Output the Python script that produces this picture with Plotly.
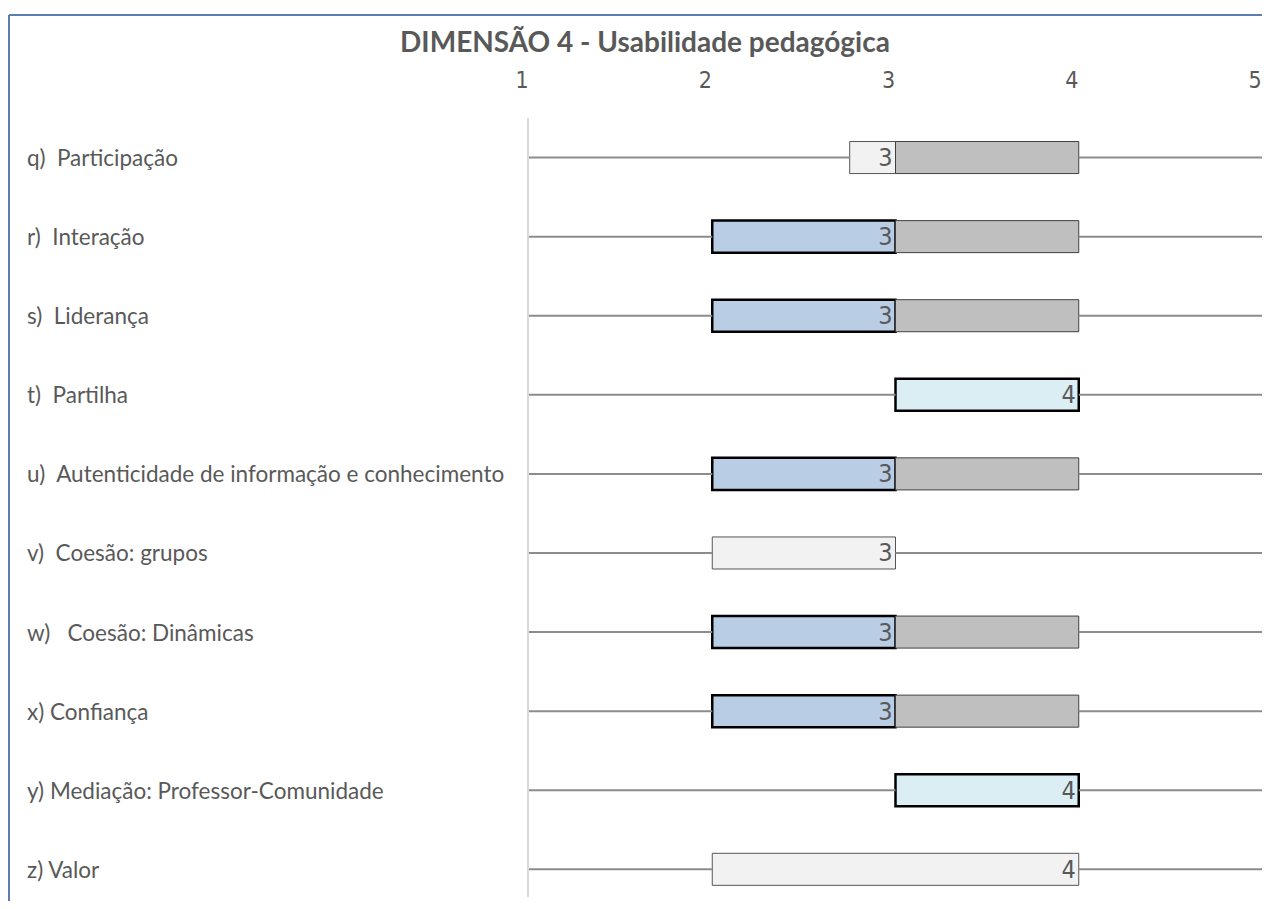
import plotly.graph_objects as go

# dados
categorias = ["q)\u00a0\u00a0Participação",
              "r)\u00a0\u00a0Interação",
              "s)\u00a0\u00a0Liderança",
              "t)\u00a0\u00a0Partilha",
              "u)\u00a0\u00a0Autenticidade de informação e conhecimento",
              "v)\u00a0\u00a0Coesão: grupos",
              "w)\u00a0\u00a0 Coesão: Dinâmicas",
              "x) Confiança",
              "y) Mediação: Professor-Comunidade",
              "z) Valor"]
minimo = [1, 1, 1, 1, 1, 1, 1, 1, 1, 1]
q1 = [2.75, 2, 2, 3, 2, 2, 2, 2, 3, 2]
mediana = [3, 3, 3, 4, 3, 3, 3, 3, 4, 4]
q3 = [4, 4, 4, 4, 4, 3, 4, 4, 4, 4]
maximo = [5, 5, 5, 5, 5, 5, 5, 5, 5, 5]
escala = [1, 2, 3, 4, 5]

# estilos da caixa inferior
cor_inf = ["#F2F2F2", "#B9CDE5", "#B9CDE5", "#DBEEF4", "#B9CDE5",
           "#F2F2F2", "#B9CDE5", "#B9CDE5", "#DBEEF4", "#F2F2F2"]
borda_larg = [1, 2.5, 2.5, 2.5, 2.5, 1, 2.5, 2.5, 2.5, 1]
borda_cor = ["#555555" if w < 2 else "#000000" for w in borda_larg]

CINZA = "#595959"
FONTE = "Lato, 'Open Sans', sans-serif"
NARROW = "'Liberation Sans Narrow', 'Arial Narrow', 'DejaVu Sans Condensed', sans-serif"

# área do gráfico (px dentro da figura)
W, H = 1254, 893
L, T, B = 521, 110, 4
PW = W - L
PH = H - T - B

fig = go.Figure()

# bigodes (linhas)
wx, wy = [], []
for c, mn, a, b, mx in zip(categorias, minimo, q1, q3, maximo):
    wx += [mn, a, None, b, mx, None]
    wy += [c, c, None, c, c, None]
fig.add_trace(go.Scatter(x=wx, y=wy, mode="lines",
                         line=dict(color="#8C8C8C", width=2),
                         hoverinfo="skip", showlegend=False))

# caixa inferior (q1 -> mediana)
fig.add_trace(go.Bar(
    y=categorias, x=[m - a for m, a in zip(mediana, q1)], base=q1,
    orientation="h", width=0.405,
    marker=dict(color=cor_inf, line=dict(color=borda_cor, width=borda_larg)),
    text=[str(m) for m in mediana], textposition="inside", textangle=0,
    insidetextanchor="end", constraintext="none",
    textfont=dict(family=NARROW, size=25, color=CINZA),
    showlegend=False))

# caixa superior (mediana -> q3)
fig.add_trace(go.Bar(
    y=categorias, x=[(b - m) if b > m else None for m, b in zip(mediana, q3)],
    base=mediana, orientation="h", width=0.405,
    marker=dict(color="#BFBFBF", line=dict(color="#404040", width=1)),
    showlegend=False))

# rótulos das categorias à esquerda
for c in categorias:
    fig.add_annotation(x=(17 - L) / PW, xref="paper", y=c, yref="y",
                       text=c, showarrow=False, xanchor="left",
                       font=dict(family=FONTE, size=22.5, color=CINZA))

# moldura
fx = (1 - L) / PW
fy = (H - B - 7) / PH
fig.add_shape(type="line", xref="paper", yref="paper",
              x0=fx, x1=fx, y0=-0.03, y1=fy,
              line=dict(color="#5B7DB1", width=2))
fig.add_shape(type="line", xref="paper", yref="paper",
              x0=fx, x1=1.02, y0=fy, y1=fy,
              line=dict(color="#5B7DB1", width=2))

fig.update_layout(
    width=W, height=H,
    margin=dict(l=L, r=0, t=T, b=B),
    barmode="overlay",
    plot_bgcolor="white", paper_bgcolor="white",
    title=dict(text="<b>DIMENSÃO 4 - Usabilidade pedagógica</b>",
               x=637 / W, xanchor="center", y=1 - 34 / H, yanchor="middle",
               font=dict(family=FONTE, size=28, color=CINZA)),
    xaxis=dict(range=[1, 5], side="top", tickvals=escala,
               ticktext=[str(v) for v in escala],
               showgrid=False, zeroline=False, showline=False,
               ticklabelstandoff=24, ticklabelshift=-7,
               tickfont=dict(family=NARROW, size=23, color=CINZA)),
    yaxis=dict(type="category", categoryorder="array", categoryarray=categorias,
               range=[9.35, -0.5], showticklabels=False, showgrid=False,
               zeroline=False, showline=True, linecolor="#D9D9D9", linewidth=1.5),
)

fig.write_html("out.html")
